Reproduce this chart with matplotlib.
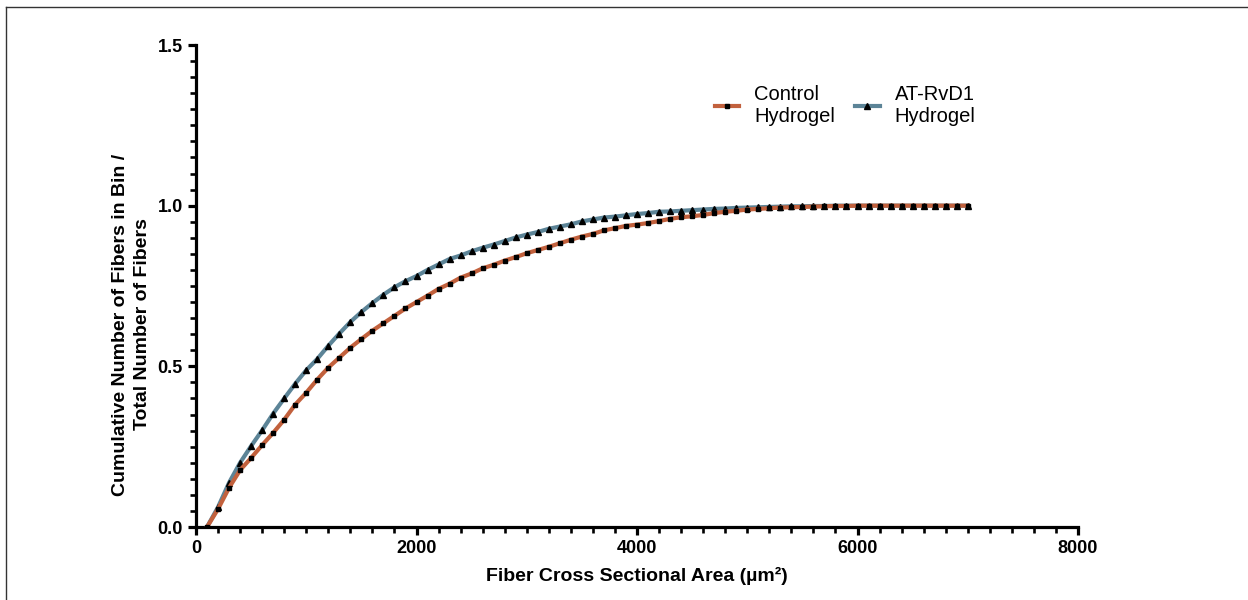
import matplotlib
matplotlib.use("Agg")
import matplotlib.pyplot as plt
from matplotlib.ticker import MultipleLocator
from matplotlib.lines import Line2D

plt.rcParams["font.family"] = ["Liberation Sans", "DejaVu Sans"]

# Bin upper edges (µm²), 100 µm² bins
area_bins = list(range(100, 7001, 100))

control_hydrogel = [
    0.000, 0.056, 0.122, 0.177, 0.215, 0.255, 0.293, 0.334, 0.381, 0.418,
    0.459, 0.496, 0.527, 0.558, 0.585, 0.611, 0.634, 0.657, 0.680, 0.700,
    0.720, 0.741, 0.757, 0.776, 0.789, 0.805, 0.816, 0.829, 0.840, 0.852,
    0.862, 0.872, 0.883, 0.894, 0.904, 0.912, 0.923, 0.930, 0.937, 0.941,
    0.946, 0.952, 0.959, 0.964, 0.967, 0.971, 0.977, 0.981, 0.984, 0.988,
    0.990, 0.992, 0.994, 0.995, 0.996, 0.997, 0.998, 0.999, 0.999, 1.000,
    1.000, 1.000, 1.000, 1.000, 1.000, 1.000, 1.000, 1.000, 1.000, 1.000,
]

atrvd1_hydrogel = [
    0.000, 0.062, 0.138, 0.200, 0.252, 0.301, 0.353, 0.400, 0.446, 0.488,
    0.523, 0.564, 0.602, 0.638, 0.669, 0.697, 0.723, 0.746, 0.765, 0.781,
    0.800, 0.817, 0.834, 0.845, 0.858, 0.869, 0.879, 0.890, 0.901, 0.910,
    0.918, 0.928, 0.935, 0.942, 0.951, 0.957, 0.963, 0.966, 0.970, 0.974,
    0.977, 0.981, 0.982, 0.984, 0.986, 0.988, 0.990, 0.991, 0.993, 0.994,
    0.995, 0.996, 0.997, 0.998, 0.998, 0.999, 0.999, 1.000, 1.000, 1.000,
    1.000, 1.000, 1.000, 1.000, 1.000, 1.000, 1.000, 1.000, 1.000, 1.000,
]

x_ticks = [0, 2000, 4000, 6000, 8000]
y_ticks = [0.0, 0.5, 1.0, 1.5]

orange = "#C2613D"
slate = "#5C8497"

fig = plt.figure(figsize=(12.48, 6.0), dpi=100)
ax = fig.add_axes([196 / 1248, 73 / 600, 882 / 1248, 482 / 600])

ax.plot(area_bins, atrvd1_hydrogel, color=slate, lw=3.0, marker="^",
        ms=3.8, mfc="black", mec="black", label="AT-RvD1\nHydrogel", zorder=3)
ax.plot(area_bins, control_hydrogel, color=orange, lw=3.0, marker="s",
        ms=3.4, mfc="black", mec="black", label="Control\nHydrogel", zorder=4)

ax.set_xlim(0, 8000)
ax.set_ylim(0, 1.5)
ax.set_xticks(x_ticks)
ax.set_yticks(y_ticks)
ax.xaxis.set_minor_locator(MultipleLocator(200))
ax.yaxis.set_minor_locator(MultipleLocator(0.05))
ax.set_yticklabels([f"{v:.1f}" for v in y_ticks])

for side in ("top", "right"):
    ax.spines[side].set_visible(False)
for side in ("left", "bottom"):
    ax.spines[side].set_linewidth(2.3)
    ax.spines[side].set_capstyle("projecting")

ax.tick_params(which="major", direction="out", length=6, width=2.3,
               labelsize=13, pad=3.5)
ax.tick_params(which="minor", direction="out", length=4, width=1.9)
for lbl in ax.get_xticklabels() + ax.get_yticklabels():
    lbl.set_fontweight("bold")

ax.set_xlabel("Fiber Cross Sectional Area (µm²)", fontsize=14,
              fontweight="bold", labelpad=7)
ax.set_ylabel("Cumulative Number of Fibers in Bin /\nTotal Number of Fibers",
              fontsize=14, fontweight="bold", linespacing=1.35)
ax.yaxis.set_label_coords(-0.051, 0.42)

handles, labels = ax.get_legend_handles_labels()
leg = ax.legend(handles[::-1], labels[::-1], ncol=2, frameon=False,
                fontsize=14.5, loc="upper left",
                bbox_to_anchor=(705 / 1248, 1 - 75 / 600),
                bbox_transform=fig.transFigure, borderpad=0,
                handlelength=1.2, handletextpad=0.75, columnspacing=1.0)
for t in leg.get_texts():
    t.set_multialignment("left")

# outer frame lines along the top and left edges
fig.add_artist(Line2D([6 / 1248, 1], [1 - 7 / 600, 1 - 7 / 600],
                      transform=fig.transFigure, color="#333333", lw=1.0))
fig.add_artist(Line2D([6 / 1248, 6 / 1248], [0, 1 - 7 / 600],
                      transform=fig.transFigure, color="#333333", lw=1.0))

fig.savefig("out.png", dpi=100, facecolor="white")
